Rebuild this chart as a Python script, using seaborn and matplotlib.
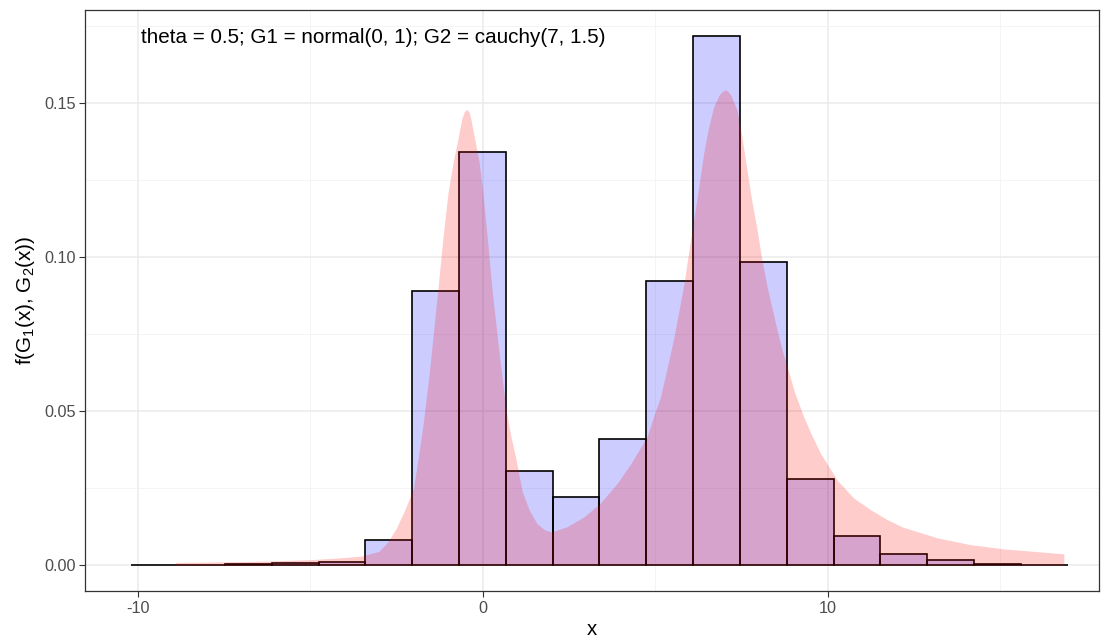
import numpy as np
import pandas as pd
import matplotlib
matplotlib.use("Agg")
import matplotlib.pyplot as plt
import seaborn as sns

# Histogram of the simulated mixture (density scale)
bin_low, bin_high, n_bins = -10.18, 16.96, 20
bin_density = [0.0001, 0.0002, 0.0003, 0.0007, 0.0010, 0.0083, 0.0891, 0.1343,
               0.0307, 0.0223, 0.0409, 0.0923, 0.1718, 0.0983, 0.0280, 0.0095,
               0.0036, 0.0016, 0.0005, 0.0002]

# Mixture density curve
curve_x = [-8.9, -7.5, -6.4, -5.0, -4.0, -3.5, -3.0, -2.75, -2.5, -2.25, -2.0,
           -1.86, -1.72, -1.6, -1.5, -1.4, -1.3, -1.15, -1.0, -0.85, -0.72, -0.6,
           -0.53, -0.46, -0.39, -0.34, -0.22, -0.1, 0.0, 0.14, 0.28, 0.38, 0.5,
           0.6, 0.69, 0.82, 0.96, 1.15, 1.35, 1.58, 1.8, 2.0, 2.45, 2.94, 3.4,
           3.9, 4.3, 4.77, 4.95, 5.16, 5.35, 5.55, 5.7, 5.84, 5.98, 6.12, 6.27,
           6.41, 6.55, 6.70, 6.85, 6.95, 7.04, 7.12, 7.2, 7.38, 7.52, 7.67, 7.81,
           7.96, 8.1, 8.25, 8.4, 8.54, 8.68, 8.83, 9.05, 9.31, 9.55, 9.80, 10.28,
           10.76, 11.25, 11.7, 12.15, 13.18, 14.14, 15.11, 16.85]
curve_y = [0.0009, 0.0011, 0.0013, 0.0018, 0.0025, 0.0030, 0.0045, 0.0075, 0.012,
           0.018, 0.025, 0.035, 0.046, 0.057, 0.067, 0.078, 0.089, 0.106, 0.121,
           0.131, 0.138, 0.145, 0.1472, 0.148, 0.1472, 0.145, 0.138, 0.131, 0.122,
           0.106, 0.089, 0.079, 0.067, 0.058, 0.050, 0.042, 0.035, 0.024, 0.018,
           0.0135, 0.0115, 0.0108, 0.0125, 0.0157, 0.020, 0.0265, 0.033, 0.0417,
           0.048, 0.0547, 0.064, 0.0741, 0.083, 0.0915, 0.102, 0.112, 0.123,
           0.1337, 0.142, 0.1488, 0.1525, 0.1538, 0.1544, 0.1538, 0.1525, 0.1477,
           0.139, 0.128, 0.118, 0.1088, 0.099, 0.0904, 0.083, 0.0763, 0.070,
           0.0644, 0.056, 0.0482, 0.042, 0.0363, 0.0276, 0.0218, 0.0180, 0.0150,
           0.0125, 0.0089, 0.0067, 0.0053, 0.0037]

x_ticks = [-10, 0, 10]
x_minor = [-5, 5, 15]
y_ticks = [0.00, 0.05, 0.10, 0.15]
y_minor = [0.025, 0.075, 0.125, 0.175]
note = "theta = 0.5; G1 = normal(0, 1); G2 = cauchy(7, 1.5)"

sns.set_theme(style="white")
plt.rcParams["font.family"] = ["Liberation Sans", "DejaVu Sans"]
plt.rcParams["mathtext.default"] = "regular"

fig = plt.figure(figsize=(11.02, 6.38), dpi=100)
ax = fig.add_axes([0.0775, 0.074, 0.9195, 0.910])

width = (bin_high - bin_low) / n_bins
hist_df = pd.DataFrame({
    "x": [bin_low + width * (i + 0.5) for i in range(n_bins)],
    "density": bin_density,
})

sns.histplot(data=hist_df, x="x", weights="density", bins=n_bins,
             binrange=(bin_low, bin_high), stat="count",
             color="blue", alpha=0.2, edgecolor="black", linewidth=1.2,
             ax=ax, zorder=2)

ax.fill_between(curve_x, 0, curve_y, color="red", alpha=0.2, linewidth=0, zorder=3)

ax.set_xlim(-11.51, 17.86)
ax.set_ylim(-0.0083, 0.1802)

ax.set_xticks(x_ticks)
ax.set_xticklabels([str(t) for t in x_ticks])
ax.set_xticks(x_minor, minor=True)
ax.set_yticks(y_ticks)
ax.set_yticklabels([f"{t:.2f}" for t in y_ticks])
ax.set_yticks(y_minor, minor=True)

ax.grid(which="major", color="#EBEBEB", linewidth=1.1, zorder=0)
ax.grid(which="minor", color="#F2F2F2", linewidth=0.6, zorder=0)
ax.set_axisbelow(True)

ax.tick_params(which="major", length=4, width=0.8, color="#333333",
               labelsize=11.7, labelcolor="#4D4D4D", direction="out",
               bottom=True, left=True, pad=3)
ax.tick_params(which="minor", length=0)
for s in ax.spines.values():
    s.set_color("#333333")
    s.set_linewidth(0.9)

ax.set_xlabel("x", fontsize=14.7, color="black", labelpad=3)
ax.set_ylabel(r"f(G$_1$(x), G$_2$(x))", fontsize=14.9, color="black", labelpad=5)

ax.text(-9.9, 0.1715, note, fontsize=14.9, color="black", va="center", ha="left")

fig.savefig("out.png", dpi=100)
